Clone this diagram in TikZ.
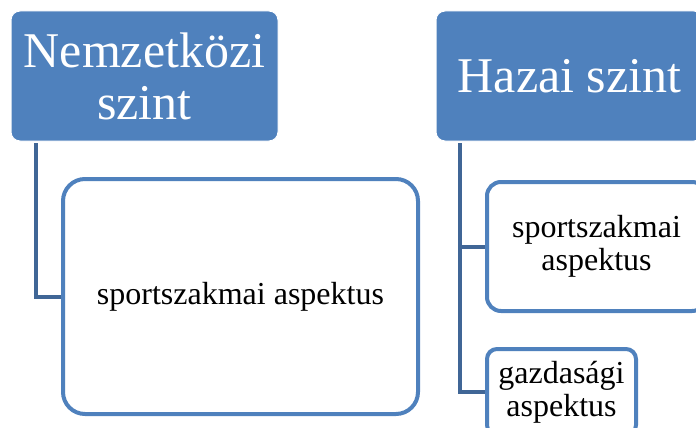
\documentclass[tikz,border=0pt]{standalone}
\usepackage{fontspec}
\setmainfont{Liberation Serif}
\definecolor{boxblue}{RGB}{79,129,189}
\definecolor{linkblue}{RGB}{64,102,150}

\begin{document}
\begin{tikzpicture}[x=1pt, y=1pt,
    level/.style={fill=boxblue, draw=white, line width=1pt, rounded corners=9pt, text=white, align=center, inner sep=0pt, minimum width=267pt, minimum height=130pt, font=\fontsize{50}{52}\selectfont},
    aspect/.style={draw=boxblue, fill=white, line width=4pt, align=center, inner sep=0pt, font=\fontsize{32}{33}\selectfont},
    link/.style={draw=linkblue, line width=4pt}]
    \useasboundingbox (0,0) rectangle (696,-428);
    \clip (0,0) rectangle (696,-428);

    % Nemzetközi szint
    \node[level] (intl) at (144.5,-76) {Nemzetközi\\szint};
    \node[aspect, rounded corners=22pt, minimum width=355pt, minimum height=235pt] (intlsport) at (240.5,-296.5) {sportszakmai aspektus};
    \coordinate (intlstem) at (36,-143);
    \draw[link] (intlstem) |- (intlsport.west);

    % Hazai szint
    \node[level] (home) at (569.5,-76) {Hazai szint};
    \node[aspect, rounded corners=14pt, minimum width=219pt, minimum height=129pt] (homesport) at (596.5,-246.5) {sportszakmai\\aspektus};
    \node[aspect, rounded corners=10pt, minimum width=149pt, minimum height=86pt] (homeecon) at (561.5,-392) {gazdasági\\aspektus};
    \coordinate (homestem) at (460,-143);
    \draw[link] (homestem) |- (homeecon.west);
    \draw[link] (homestem |- homesport.west) -- (homesport.west);
\end{tikzpicture}
\end{document}
